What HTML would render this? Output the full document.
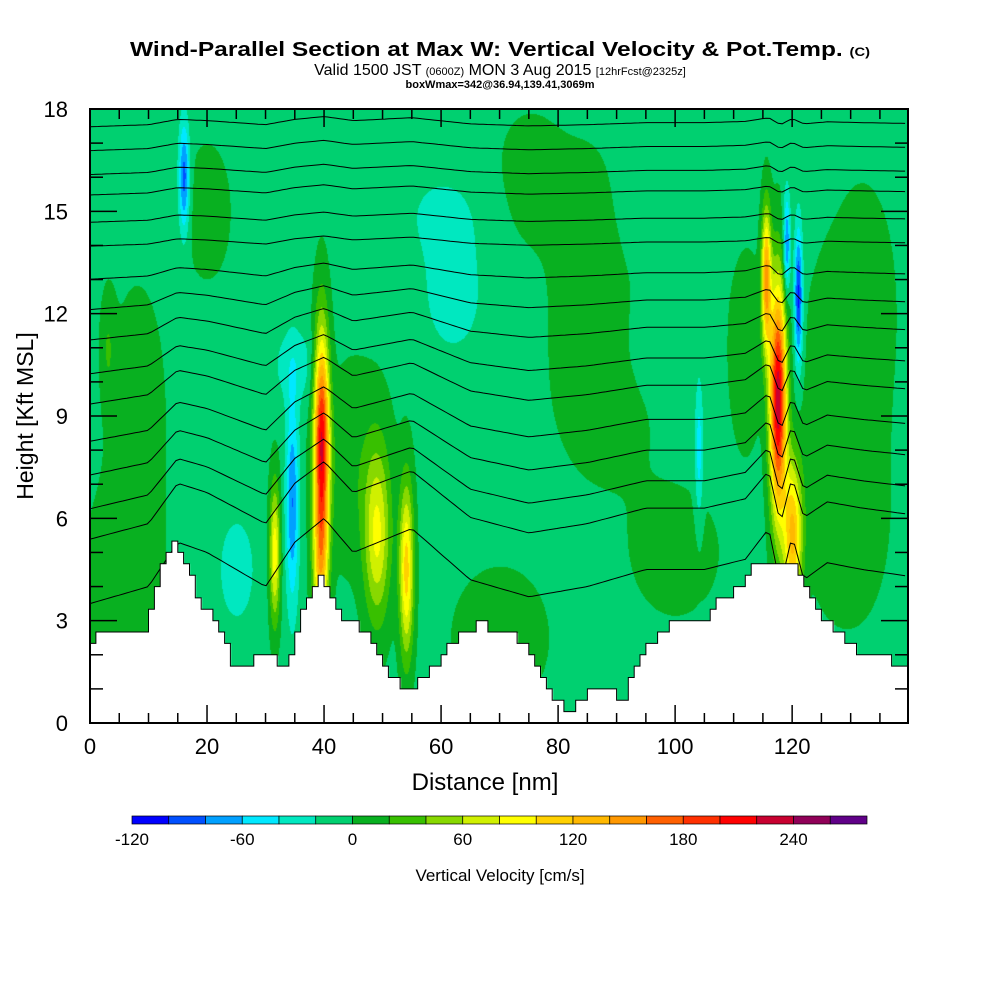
<!DOCTYPE html>
<html><head><meta charset="utf-8">
<style>
body{margin:0;background:#fff;width:1000px;height:1000px;overflow:hidden;font-family:"Liberation Sans",sans-serif;}
#wrap{position:relative;width:1000px;height:1000px;}
canvas{position:absolute;left:0;top:0;}
svg{position:absolute;left:0;top:0;}
</style></head>
<body>
<div id="wrap">
<canvas id="field" width="1000" height="1000"></canvas>
<svg id="ov" width="1000" height="1000">
<text x="500" y="56" text-anchor="middle" font-size="20" font-weight="bold" textLength="740" lengthAdjust="spacingAndGlyphs">Wind-Parallel Section at Max W: Vertical Velocity &amp; Pot.Temp. <tspan font-size="12">(C)</tspan></text>
<text x="500" y="75" text-anchor="middle" font-size="16">Valid 1500 JST <tspan font-size="11">(0600Z)</tspan> MON 3 Aug 2015 <tspan font-size="11">[12hrFcst@2325z]</tspan></text>
<text x="500" y="88" text-anchor="middle" font-size="11" font-weight="bold">boxWmax=342@36.94,139.41,3069m</text>
<text transform="translate(33,416) rotate(-90)" text-anchor="middle" font-size="23">Height [Kft MSL]</text>
<text x="485" y="790" text-anchor="middle" font-size="24">Distance [nm]</text>
<text x="500" y="881" text-anchor="middle" font-size="17">Vertical Velocity [cm/s]</text>
</svg>
</div>
<script>
// ---- data ----
const terrainX = [0,1,9,10,11,12,13,14,15,16,17,18,19,20,21,22,23,24,25,26,28.5,31,32.8,35,36,37,39,40,41.5,42.7,47,49,50.4,51.6,53.5,55,57,59,60,63.6,66.7,70,73,75,77,78,79,80,82,84,86,89,90,91,92,94,96,98,100,105,106,108,110,112,114,116,120,122,124,126,128,130,132,135,137,140];
const terrainZ = [2.3,2.6,2.6,3.0,3.6,4.2,4.9,5.3,5.3,4.9,4.5,3.9,3.4,3.4,3.0,2.7,2.35,2.0,1.6,1.4,2.0,2.0,1.6,2.3,3.25,3.6,4.25,4.25,3.6,3.25,2.7,2.0,1.6,1.35,1.0,1.0,1.3,1.6,2.0,2.6,2.95,2.6,2.6,2.1,1.7,1.0,0.7,0.7,0.3,0.7,1.0,1.0,0.7,0.3,1.0,1.8,2.3,2.7,3.0,3.0,3.3,3.6,3.9,4.25,4.6,4.6,4.6,4.25,3.6,3.0,2.7,2.3,2.0,2.0,1.85,1.6];
// vertical-velocity cells: center distance, center height, amplitude (cm/s), half-width nm, half-depth kft
const cellX   = [39.5,39.3,34.5,31.5,49,54,117.5,115.5,120,121,119,16,104,5,70,88,130,25,62,35,60,100,45,112,125,3,8,85,132,75,100,20,95];
const cellZ   = [8.2,4.5,6.5,5,5.5,4.5,9.5,13,5.5,12.5,14,16,8,3,2.5,10,6,4.5,12.5,10.5,15,15,7.5,11,9,11,9,14,12,16,5,15,11];
const cellAmp = [220,90,-75,100,85,115,240,150,130,-100,-80,-85,-45,20,18,16,18,-22,-22,-25,-16,-14,20,18,14,24,15,15,15,14,14,16,-10];
const cellWx  = [1.3,1.3,1.1,0.9,2.2,1.2,1.4,0.8,1.6,0.7,0.6,0.9,0.7,7,8,9,6,4,6,4,8,8,6,3,4,1.2,5,6,6,6,8,4,5];
const cellWz  = [3.2,2,3,2,2.5,2.5,3.3,2,2.2,2,1.5,1.6,2,3.5,2,3,3,2,2,1.2,1.5,1.5,3,3,4,1.5,4,3,4,2,2,2,1.5];
const colorLevels = [-120,-100,-80,-60,-40,-20,0,20,40,60,80,100,120,140,160,180,200,220,240,260,280];
const colorBins = ["#0000ff","#0050ff","#00a0ff","#00e8ff","#00e8c0","#00d070","#08b020","#38c000","#88d800","#d0f000","#ffff00","#ffd000","#ffb800","#ff9800","#ff6000","#ff3000","#ff0000","#c80030","#900058","#600088"];
const colorTicks = [-120,-60,0,60,120,180,240];
const thetaBase = [4.5,6.3,7.1,8.0,8.9,9.9,10.7,11.6,12.4,13.2,14.1,14.8,15.6,16.2,16.9,17.6];
const deflX = [0,10,15,20,30,35,40,45,55,65,75,85,95,105,112,116,118,120,122,126,132,140];
const deflZ = [-1,-0.5,0.8,0.5,-0.5,0.8,1.5,0.5,1.2,-0.3,-0.8,-0.5,0,0,0.3,1.2,-0.5,1,-0.3,0.2,0,-0.2];
const xTicks = [0,20,40,60,80,100,120];
const yTicks = [0,3,6,9,12,15,18];
// ---- axes ----
const L=90,R=908,T=109,B=723,XMAX=139.8,ZMAX=18;
const sx=d=>L+d/XMAX*(R-L), sz=z=>B-z/ZMAX*(B-T);
const ix=p=>(p-L)/(R-L)*XMAX, iz=p=>(B-p)/(B-T)*ZMAX;
function interp(xs,ys,x){if(x<=xs[0])return ys[0];for(let i=1;i<xs.length;i++){if(x<=xs[i]){const t=(x-xs[i-1])/(xs[i]-xs[i-1]);return ys[i-1]+t*(ys[i]-ys[i-1]);}}return ys[ys.length-1];}
function terr(x){const xs=Math.floor(x);return Math.round(interp(terrainX,terrainZ,xs+0.5)*3)/3;}
function vel(x,z){let v=-6;for(let i=0;i<cellX.length;i++){const dx=(x-cellX[i])/cellWx[i],dz=(z-cellZ[i])/cellWz[i];const q=dx*dx+dz*dz;if(q<12)v+=cellAmp[i]*Math.exp(-q);}return v;}
function hex(c){return [parseInt(c.substr(1,2),16),parseInt(c.substr(3,2),16),parseInt(c.substr(5,2),16)];}
const rgb=colorBins.map(hex);
const cv=document.getElementById('field'),ctx=cv.getContext('2d');
const img=ctx.createImageData(R-L,B-T);
for(let py=0;py<B-T;py++){const z=iz(py+T);for(let px=0;px<R-L;px++){const x=ix(px+L);const o=(py*(R-L)+px)*4;let c=[255,255,255];if(z>terr(x)){const v=vel(x,z);let k=0;while(k<colorBins.length-1&&v>=colorLevels[k+1])k++;c=rgb[k];}img.data[o]=c[0];img.data[o+1]=c[1];img.data[o+2]=c[2];img.data[o+3]=255;}}
ctx.putImageData(img,L,T);
// colorbar
const cbL=132,cbR=867,cbT=816,cbB=824;
const sc=v=>cbL+(v-colorLevels[0])/(colorLevels[colorLevels.length-1]-colorLevels[0])*(cbR-cbL);
const NS="http://www.w3.org/2000/svg",ov=document.getElementById('ov');
function mk(t,a,p){const e=document.createElementNS(NS,t);for(const k in a)e.setAttribute(k,a[k]);(p||ov).appendChild(e);return e;}
// isentropes
const gTheta=mk('g',{fill:'none',stroke:'#000','stroke-width':1});


thetaBase.forEach((h,j)=>{const f=Math.max(0.12,1-j*0.09);let d='';for(let x=0;x<=XMAX;x+=0.7){const z=Math.min(h+f*interp(deflX,deflZ,x),17.95);d+=(d?'L':'M')+sx(x).toFixed(1)+','+sz(z).toFixed(1);}const p=mk('path',{d:d},gTheta);});
// terrain mask (white over lines)
let td='M'+L+','+B;for(let x=0;x<XMAX;x+=1){const z=terr(x+0.01);td+='L'+sx(x).toFixed(1)+','+sz(z).toFixed(1)+'L'+sx(Math.min(x+1,XMAX)).toFixed(1)+','+sz(z).toFixed(1);}td+='L'+R+','+B+'Z';
const tp=mk('path',{d:td,fill:'#fff',stroke:'#000','stroke-width':1});


// frame
const fr=mk('rect',{x:L,y:T,width:R-L,height:B-T,fill:'none',stroke:'#000','stroke-width':2});


// ticks
const gT=mk('g',{stroke:'#000','stroke-width':1.5});


for(let x=0;x<=XMAX;x+=5){const maj=x%20===0,len=maj?18:10;mk('line',{x1:sx(x),x2:sx(x),y1:B,y2:B-len},gT);mk('line',{x1:sx(x),x2:sx(x),y1:T,y2:T+len},gT);}
for(let z=0;z<=ZMAX;z+=1){const maj=z%3===0,len=maj?27:13;mk('line',{x1:L,x2:L+len,y1:sz(z),y2:sz(z)},gT);mk('line',{x1:R,x2:R-len,y1:sz(z),y2:sz(z)},gT);}
xTicks.forEach(v=>{const t=mk('text',{x:sx(v),y:754,'text-anchor':'middle','font-size':22});t.textContent=v;});
yTicks.forEach(v=>{const t=mk('text',{x:68,y:sz(v)+8,'text-anchor':'end','font-size':22});t.textContent=v;});
// colorbar boxes
const gC=mk('g',{});


colorBins.forEach((c,i)=>{const r=mk('rect',{x:sc(colorLevels[i]),y:cbT,width:sc(colorLevels[i+1])-sc(colorLevels[i]),height:cbB-cbT,fill:c,stroke:'#000','stroke-width':0.7},gC);});
colorTicks.forEach(v=>{const t=mk('text',{x:sc(v),y:845,'text-anchor':'middle','font-size':17});t.textContent=v;});
</script>
</body></html>
